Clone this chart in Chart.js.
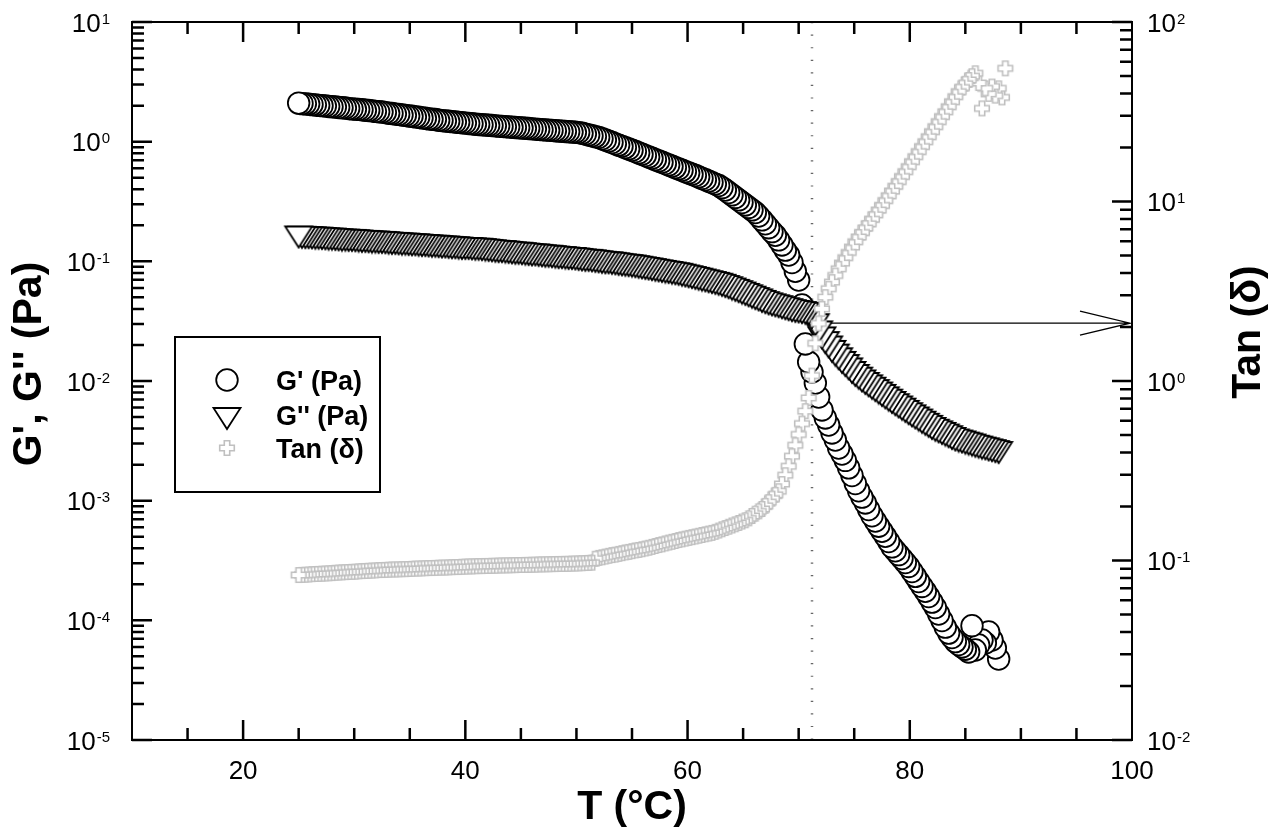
<!DOCTYPE html>
<html>
<head>
<meta charset="utf-8">
<script src="https://cdn.jsdelivr.net/npm/chart.js@4.4.1/dist/chart.umd.min.js"></script>
<style>
  html, body { margin: 0; padding: 0; background: #fff; }
  canvas { display: block; }
</style>
</head>
<body>
<canvas id="chart" width="1273" height="838"></canvas>
<script>
// Temperature sweep (°C)
const temperature = [
  25.0, 25.3, 25.6, 25.9, 26.2, 26.5, 26.8, 27.1, 27.4, 27.7,
  28.0, 28.3, 28.6, 28.9, 29.2, 29.5, 29.8, 30.1, 30.4, 30.7,
  31.0, 31.3, 31.6, 31.9, 32.2, 32.5, 32.8, 33.1, 33.4, 33.7,
  34.0, 34.3, 34.6, 34.9, 35.2, 35.5, 35.8, 36.1, 36.4, 36.7,
  37.0, 37.3, 37.6, 37.9, 38.2, 38.5, 38.8, 39.1, 39.4, 39.7,
  40.0, 40.3, 40.6, 40.9, 41.2, 41.5, 41.8, 42.1, 42.4, 42.7,
  43.0, 43.3, 43.6, 43.9, 44.2, 44.5, 44.8, 45.1, 45.4, 45.7,
  46.0, 46.3, 46.6, 46.9, 47.2, 47.5, 47.8, 48.1, 48.4, 48.7,
  49.0, 49.3, 49.6, 49.9, 50.2, 50.5, 50.8, 51.1, 51.4, 51.7,
  52.0, 52.3, 52.6, 52.9, 53.2, 53.5, 53.8, 54.1, 54.4, 54.7,
  55.0, 55.3, 55.6, 55.9, 56.2, 56.5, 56.8, 57.1, 57.4, 57.7,
  58.0, 58.3, 58.6, 58.9, 59.2, 59.5, 59.8, 60.1, 60.4, 60.7,
  61.0, 61.3, 61.6, 61.9, 62.2, 62.5, 62.8, 63.1, 63.4, 63.7,
  64.0, 64.3, 64.6, 64.9, 65.2, 65.5, 65.8, 66.1, 66.4, 66.7,
  67.0, 67.3, 67.6, 67.9, 68.2, 68.5, 68.8, 69.1, 69.4, 69.7,
  70.0, 70.3, 70.6, 70.9, 71.2, 71.5, 71.8, 72.1, 72.4, 72.7,
  73.0, 73.3, 73.6, 73.9, 74.2, 74.5, 74.8, 75.1, 75.4, 75.7,
  76.0, 76.3, 76.6, 76.9, 77.2, 77.5, 77.8, 78.1, 78.4, 78.7,
  79.0, 79.3, 79.6, 79.9, 80.2, 80.5, 80.8, 81.1, 81.4, 81.7,
  82.0, 82.3, 82.6, 82.9, 83.2, 83.5, 83.8, 84.1, 84.4, 84.7,
  85.0, 85.3, 85.6, 85.9, 86.2, 86.5, 86.8, 87.1, 87.4, 87.7,
  88.0, 88.3, 88.6
];

// Storage modulus G' (Pa)
const storageModulus = [
  2.10, 2.08, 2.07, 2.06, 2.04, 2.03, 2.01, 2.00, 1.99, 1.97,
  1.96, 1.95, 1.93, 1.92, 1.91, 1.89, 1.88, 1.87, 1.86, 1.85,
  1.83, 1.82, 1.81, 1.79, 1.78, 1.77, 1.75, 1.73, 1.72, 1.70,
  1.69, 1.67, 1.66, 1.64, 1.63, 1.61, 1.60, 1.58, 1.57, 1.55,
  1.54, 1.53, 1.51, 1.50, 1.49, 1.48, 1.47, 1.46, 1.45, 1.44,
  1.43, 1.42, 1.41, 1.40, 1.39, 1.385, 1.38, 1.37, 1.363, 1.356,
  1.349, 1.342, 1.335, 1.328, 1.321, 1.314, 1.307, 1.300, 1.294, 1.287,
  1.280, 1.274, 1.267, 1.260, 1.254, 1.248, 1.242, 1.235, 1.229, 1.222,
  1.216, 1.210, 1.203, 1.197, 1.191, 1.176, 1.157, 1.138, 1.120, 1.102,
  1.084, 1.058, 1.032, 1.007, 0.983, 0.959, 0.936, 0.914, 0.892, 0.870,
  0.848, 0.827, 0.806, 0.785, 0.765, 0.746, 0.727, 0.708, 0.690, 0.673,
  0.656, 0.639, 0.623, 0.607, 0.592, 0.577, 0.562, 0.548, 0.534, 0.521,
  0.507, 0.493, 0.480, 0.467, 0.455, 0.442, 0.430, 0.413, 0.394, 0.376,
  0.359, 0.342, 0.326, 0.310, 0.296, 0.282, 0.269, 0.256, 0.239, 0.222,
  0.206, 0.191, 0.177, 0.165, 0.151, 0.137, 0.124, 0.113, 0.0977, 0.0826,
  0.0698, 0.0432, 0.0204, 0.0144, 0.0119, 9.62e-3, 7.35e-3, 5.73e-3, 4.91e-3, 4.29e-3,
  3.68e-3, 3.21e-3, 2.75e-3, 2.45e-3, 2.17e-3, 1.88e-3, 1.62e-3, 1.39e-3, 1.21e-3, 1.07e-3,
  9.57e-4, 8.43e-4, 7.48e-4, 6.76e-4, 6.12e-4, 5.55e-4, 5.04e-4, 4.55e-4, 4.11e-4, 3.81e-4,
  3.54e-4, 3.28e-4, 3.04e-4, 2.82e-4, 2.56e-4, 2.33e-4, 2.11e-4, 1.92e-4, 1.75e-4, 1.58e-4,
  1.42e-4, 1.28e-4, 1.13e-4, 9.95e-5, 8.77e-5, 7.82e-5, 7.19e-5, 6.64e-5, 6.27e-5, 6.00e-5,
  5.74e-5, 5.44e-5, 9.02e-5, 5.65e-5, 6.22e-5, 6.85e-5, 6.47e-5, 8.00e-5, 6.85e-5, 5.87e-5,
  4.75e-5, null, null
];

// Loss modulus G'' (Pa)
const lossModulus = [
  0.171, 0.170, 0.169, 0.169, 0.168, 0.167, 0.167, 0.166, 0.165, 0.164,
  0.164, 0.163, 0.162, 0.161, 0.161, 0.160, 0.160, 0.159, 0.158, 0.157,
  0.157, 0.156, 0.155, 0.155, 0.154, 0.154, 0.153, 0.152, 0.151, 0.151,
  0.150, 0.149, 0.149, 0.148, 0.147, 0.147, 0.146, 0.145, 0.145, 0.144,
  0.143, 0.143, 0.142, 0.141, 0.141, 0.140, 0.139, 0.139, 0.138, 0.137,
  0.137, 0.137, 0.136, 0.135, 0.135, 0.134, 0.133, 0.132, 0.131, 0.130,
  0.129, 0.129, 0.128, 0.127, 0.126, 0.125, 0.125, 0.124, 0.123, 0.122,
  0.121, 0.121, 0.120, 0.119, 0.118, 0.118, 0.117, 0.116, 0.115, 0.115,
  0.114, 0.113, 0.113, 0.112, 0.111, 0.110, 0.109, 0.109, 0.108, 0.107,
  0.106, 0.105, 0.104, 0.104, 0.103, 0.102, 0.101, 0.100, 0.0993, 0.0986,
  0.0977, 0.0966, 0.0955, 0.0944, 0.0933, 0.0923, 0.0912, 0.0902, 0.0891, 0.0881,
  0.0871, 0.0863, 0.0853, 0.0843, 0.0834, 0.0820, 0.0807, 0.0796, 0.0783, 0.0771,
  0.0759, 0.0746, 0.0735, 0.0723, 0.0711, 0.0700, 0.0689, 0.0675, 0.0659, 0.0644,
  0.0628, 0.0612, 0.0597, 0.0581, 0.0566, 0.0551, 0.0537, 0.0522, 0.0509, 0.0495,
  0.0483, 0.0472, 0.0463, 0.0455, 0.0447, 0.0438, 0.0430, 0.0422, 0.0414, 0.0408,
  0.0404, 0.0399, 0.0394, 0.0389, 0.0363, 0.0316, 0.0275, 0.0245, 0.0224, 0.0206,
  0.0189, 0.0176, 0.0164, 0.0153, 0.0144, 0.0135, 0.0126, 0.0119, 0.0113, 0.0107,
  0.0102, 9.75e-3, 9.31e-3, 8.89e-3, 8.49e-3, 8.11e-3, 7.74e-3, 7.40e-3, 7.08e-3, 6.78e-3,
  6.49e-3, 6.22e-3, 5.96e-3, 5.70e-3, 5.47e-3, 5.25e-3, 5.05e-3, 4.84e-3, 4.65e-3, 4.47e-3,
  4.29e-3, 4.15e-3, 4.02e-3, 3.90e-3, 3.78e-3, 3.66e-3, 3.54e-3, 3.44e-3, 3.37e-3, 3.31e-3,
  3.24e-3, 3.18e-3, 3.12e-3, 3.05e-3, 3.00e-3, 2.94e-3, 2.90e-3, 2.84e-3, 2.80e-3, 2.75e-3,
  2.70e-3, null, null
];

// Loss tangent tan(δ)
const tanDelta = [
  0.0830, 0.0832, 0.0834, 0.0836, 0.0839, 0.0841, 0.0843, 0.0845, 0.0847, 0.0849,
  0.0851, 0.0855, 0.0857, 0.0859, 0.0861, 0.0863, 0.0865, 0.0867, 0.0871, 0.0873,
  0.0875, 0.0877, 0.0879, 0.0881, 0.0885, 0.0885, 0.0887, 0.0889, 0.0891, 0.0891,
  0.0893, 0.0895, 0.0895, 0.0897, 0.0899, 0.0902, 0.0902, 0.0904, 0.0906, 0.0908,
  0.0908, 0.0910, 0.0912, 0.0914, 0.0914, 0.0916, 0.0918, 0.0920, 0.0920, 0.0923,
  0.0925, 0.0927, 0.0927, 0.0929, 0.0931, 0.0931, 0.0933, 0.0933, 0.0935, 0.0935,
  0.0938, 0.0938, 0.0940, 0.0940, 0.0942, 0.0942, 0.0944, 0.0944, 0.0946, 0.0946,
  0.0948, 0.0948, 0.0951, 0.0951, 0.0953, 0.0953, 0.0955, 0.0955, 0.0957, 0.0957,
  0.0959, 0.0959, 0.0962, 0.0962, 0.0964, 0.0966, 0.0968, 0.0970, 0.0973, 0.1023,
  0.1035, 0.1042, 0.1052, 0.1062, 0.1072, 0.1079, 0.1089, 0.1099, 0.1109, 0.1117,
  0.1127, 0.1138, 0.1146, 0.1156, 0.1167, 0.1178, 0.1191, 0.1205, 0.1219, 0.1230,
  0.1245, 0.1259, 0.1271, 0.1285, 0.1300, 0.1312, 0.1324, 0.1337, 0.1349, 0.1361,
  0.1374, 0.1387, 0.1400, 0.1413, 0.1426, 0.1445, 0.1469, 0.1493, 0.1517, 0.1542,
  0.1567, 0.1592, 0.1618, 0.1648, 0.1675, 0.1718, 0.1770, 0.1824, 0.1879, 0.1936,
  0.2018, 0.2113, 0.2213, 0.2323, 0.2432, 0.2667, 0.2985, 0.3350, 0.3810, 0.4385,
  0.5035, 0.579, 0.679, 0.805, 1.072, 1.622, 2.094, 2.523, 2.931, 3.266,
  3.556, 3.873, 4.217, 4.539, 4.864, 5.20, 5.572, 5.970, 6.339, 6.714,
  7.112, 7.516, 7.962, 8.433, 8.954, 9.506, 10.12, 10.76, 11.43, 12.16,
  12.91, 13.77, 14.66, 15.63, 16.67, 17.78, 18.97, 20.23, 21.53, 22.96,
  24.49, 26.12, 27.86, 29.72, 31.62, 33.73, 35.97, 38.37, 40.93, 43.15,
  45.29, 47.53, 49.89, 51.8, 45.7, 33.0, 42.7, 39.8, 43.7, 38.9,
  42.7, 38.0, 55.2
];

// Axis ticks
const xMajorTicks = [20, 40, 60, 80, 100];
const xMinorStep = 5;
const leftDecades = [1e-5, 1e-4, 1e-3, 1e-2, 1e-1, 1, 10];
const rightDecades = [0.01, 0.1, 1, 10, 100];

// Crossover guide and the tan(δ) read-off arrow
const crossoverT = 71.2;
const arrowTan = 2.1;

const FONT = '"Liberation Sans", Arial, Helvetica, sans-serif';

// Points are drawn from the hot end to the cold end so the low-temperature markers sit on top
function series(values) {
  const pts = [];
  for (let i = temperature.length - 1; i >= 0; i--) {
    if (values[i] !== null) pts.push({ x: temperature[i], y: values[i] });
  }
  return pts;
}

function makeTriangle() {
  const c = document.createElement('canvas');
  c.width = 32; c.height = 32;
  const g = c.getContext('2d');
  g.beginPath();
  g.moveTo(2.5, 9); g.lineTo(29.5, 9); g.lineTo(16, 30); g.closePath();
  g.fillStyle = '#fff'; g.fill();
  g.lineWidth = 1.8; g.strokeStyle = '#000'; g.stroke();
  return c;
}

function makePlus() {
  const c = document.createElement('canvas');
  c.width = 20; c.height = 20;
  const g = c.getContext('2d');
  const a = 2.7, L = 7.3, o = 10;
  const p = [[-a,-L],[a,-L],[a,-a],[L,-a],[L,a],[a,a],[a,L],[-a,L],[-a,a],[-L,a],[-L,-a],[-a,-a]];
  g.beginPath();
  p.forEach(([dx, dy], i) => i ? g.lineTo(o + dx, o + dy) : g.moveTo(o + dx, o + dy));
  g.closePath();
  g.fillStyle = '#fff'; g.fill();
  g.lineWidth = 1.6; g.strokeStyle = '#c0c0c0'; g.stroke();
  return c;
}

const triangleMarker = makeTriangle();
const plusMarker = makePlus();

function drawMarker(ctx, ds, px, py) {
  const st = ds.pointStyle;
  if (typeof st === 'object') {
    ctx.drawImage(st, px - st.width / 2, py - st.height / 2);
  } else {
    ctx.beginPath();
    ctx.arc(px, py, ds.pointRadius, 0, Math.PI * 2);
    ctx.fillStyle = ds.pointBackgroundColor; ctx.fill();
    ctx.lineWidth = ds.pointBorderWidth; ctx.strokeStyle = ds.pointBorderColor; ctx.stroke();
  }
}

// "10" with a raised exponent, anchored at (x, y) on the tick
function powerLabel(ctx, exp, x, y, align) {
  const base = '10', sup = String(exp);
  ctx.font = '26px ' + FONT;
  const bw = ctx.measureText(base).width;
  ctx.font = '15px ' + FONT;
  const sw = ctx.measureText(sup).width;
  const left = align === 'right' ? x - bw - 1 - sw : x;
  ctx.textAlign = 'left';
  ctx.textBaseline = 'alphabetic';
  ctx.font = '26px ' + FONT;
  ctx.fillText(base, left, y + 9.5);
  ctx.font = '15px ' + FONT;
  ctx.fillText(sup, left + bw + 1, y + 1.5);
}

const decorations = {
  id: 'decorations',
  beforeDatasetsDraw(chart) {
    const { ctx, chartArea: a, scales: { x, y2 } } = chart;
    ctx.save();
    // dotted vertical guide at the crossover
    const cx = x.getPixelForValue(crossoverT);
    ctx.strokeStyle = '#666';
    ctx.lineWidth = 2.5;
    ctx.setLineDash([1.2, 11.37]);
    ctx.beginPath(); ctx.moveTo(cx, a.top); ctx.lineTo(cx, a.bottom); ctx.stroke();
    ctx.setLineDash([]);
    // arrow pointing to the right-hand tan(δ) axis
    const ay = y2.getPixelForValue(arrowTan);
    const ax1 = a.right - 2;
    ctx.strokeStyle = '#000';
    ctx.lineWidth = 1.3;
    ctx.beginPath();
    ctx.moveTo(cx, ay); ctx.lineTo(ax1, ay);
    ctx.moveTo(ax1 - 50, ay - 12); ctx.lineTo(ax1, ay); ctx.lineTo(ax1 - 50, ay + 12);
    ctx.stroke();
    ctx.restore();
  },
  afterDatasetsDraw(chart) {
    const { ctx, chartArea: a, scales: { x, y, y2 } } = chart;
    ctx.save();
    ctx.fillStyle = '#000';
    ctx.strokeStyle = '#000';

    // inward ticks on all four sides
    ctx.lineWidth = 2.5;
    ctx.beginPath();
    for (let t = x.min + xMinorStep; t < x.max; t += xMinorStep) {
      const px = x.getPixelForValue(t);
      const len = xMajorTicks.includes(t) ? 20 : 12;
      ctx.moveTo(px, a.bottom); ctx.lineTo(px, a.bottom - len);
      ctx.moveTo(px, a.top); ctx.lineTo(px, a.top + len);
    }
    leftDecades.forEach((d, i) => {
      const py = y.getPixelForValue(d);
      ctx.moveTo(a.left, py); ctx.lineTo(a.left + 20, py);
      if (i < leftDecades.length - 1) {
        for (let m = 2; m <= 9; m++) {
          const pm = y.getPixelForValue(m * d);
          ctx.moveTo(a.left, pm); ctx.lineTo(a.left + 12, pm);
        }
      }
    });
    rightDecades.forEach((d, i) => {
      const py = y2.getPixelForValue(d);
      ctx.moveTo(a.right, py); ctx.lineTo(a.right - 20, py);
      if (i < rightDecades.length - 1) {
        for (let m = 2; m <= 9; m++) {
          const pm = y2.getPixelForValue(m * d);
          ctx.moveTo(a.right, pm); ctx.lineTo(a.right - 12, pm);
        }
      }
    });
    ctx.stroke();

    // frame
    ctx.lineWidth = 2;
    ctx.strokeRect(a.left, a.top, a.right - a.left, a.bottom - a.top);

    // x tick labels
    ctx.font = '26px ' + FONT;
    ctx.textAlign = 'center';
    ctx.textBaseline = 'alphabetic';
    xMajorTicks.forEach(t => ctx.fillText(String(t), x.getPixelForValue(t), a.bottom + 39));
    ctx.restore();
  }
};

const labelsPlugin = {
  id: 'tickLabels',
  afterDraw(chart) {
    const { ctx, chartArea: a, scales: { y, y2 } } = chart;
    ctx.save();
    ctx.fillStyle = '#000';
    leftDecades.forEach(d => powerLabel(ctx, Math.round(Math.log10(d)), a.left - 22, y.getPixelForValue(d), 'right'));
    rightDecades.forEach(d => powerLabel(ctx, Math.round(Math.log10(d)), a.right + 15, y2.getPixelForValue(d), 'left'));

    // axis titles
    ctx.font = 'bold 41px ' + FONT;
    ctx.textAlign = 'center';
    ctx.textBaseline = 'alphabetic';
    ctx.fillText('T (°C)', (a.left + a.right) / 2, 819);
    ctx.save(); ctx.translate(41, 364); ctx.rotate(-Math.PI / 2);
    ctx.fillText("G', G'' (Pa)", 0, 0); ctx.restore();
    ctx.save(); ctx.translate(1260, 332); ctx.rotate(-Math.PI / 2);
    ctx.fillText('Tan (\u03B4)', 0, 0); ctx.restore();

    // legend
    ctx.lineWidth = 2;
    ctx.strokeStyle = '#000';
    ctx.strokeRect(175, 337, 205, 155);
    const rows = [380, 415, 448];
    chart.data.datasets.forEach((ds, i) => {
      drawMarker(ctx, ds, 227, rows[i]);
      ctx.fillStyle = '#000';
      ctx.font = 'bold 27px ' + FONT;
      ctx.textAlign = 'left';
      ctx.fillText(ds.label, 276, rows[i] + 10);
    });
    ctx.restore();
  }
};

new Chart(document.getElementById('chart'), {
  type: 'scatter',
  data: {
    datasets: [
      {
        label: "G' (Pa)",
        data: series(storageModulus),
        yAxisID: 'y',
        order: 2,
        pointStyle: 'circle',
        pointRadius: 10.8,
        pointBackgroundColor: '#fff',
        pointBorderColor: '#000',
        pointBorderWidth: 1.8
      },
      {
        label: "G'' (Pa)",
        data: series(lossModulus),
        yAxisID: 'y',
        order: 1,
        pointStyle: triangleMarker,
        pointRadius: 14
      },
      {
        label: 'Tan (\u03B4)',
        data: series(tanDelta),
        yAxisID: 'y2',
        order: 0,
        pointStyle: plusMarker,
        pointRadius: 9
      }
    ]
  },
  options: {
    responsive: false,
    animation: false,
    events: [],
    layout: { padding: { top: 22, left: 0, right: 0, bottom: 0 } },
    plugins: { legend: { display: false }, tooltip: { enabled: false } },
    scales: {
      x: {
        type: 'linear', min: 10, max: 100, position: 'bottom',
        grid: { display: false }, border: { display: false }, ticks: { display: false },
        afterFit: s => { s.height = 98; }
      },
      y: {
        type: 'logarithmic', min: 1e-5, max: 10, position: 'left',
        grid: { display: false }, border: { display: false }, ticks: { display: false },
        afterFit: s => { s.width = 132; }
      },
      y2: {
        type: 'logarithmic', min: 0.01, max: 100, position: 'right',
        grid: { display: false }, border: { display: false }, ticks: { display: false },
        afterFit: s => { s.width = 141; }
      }
    }
  },
  plugins: [decorations, labelsPlugin]
});
</script>
</body>
</html>
